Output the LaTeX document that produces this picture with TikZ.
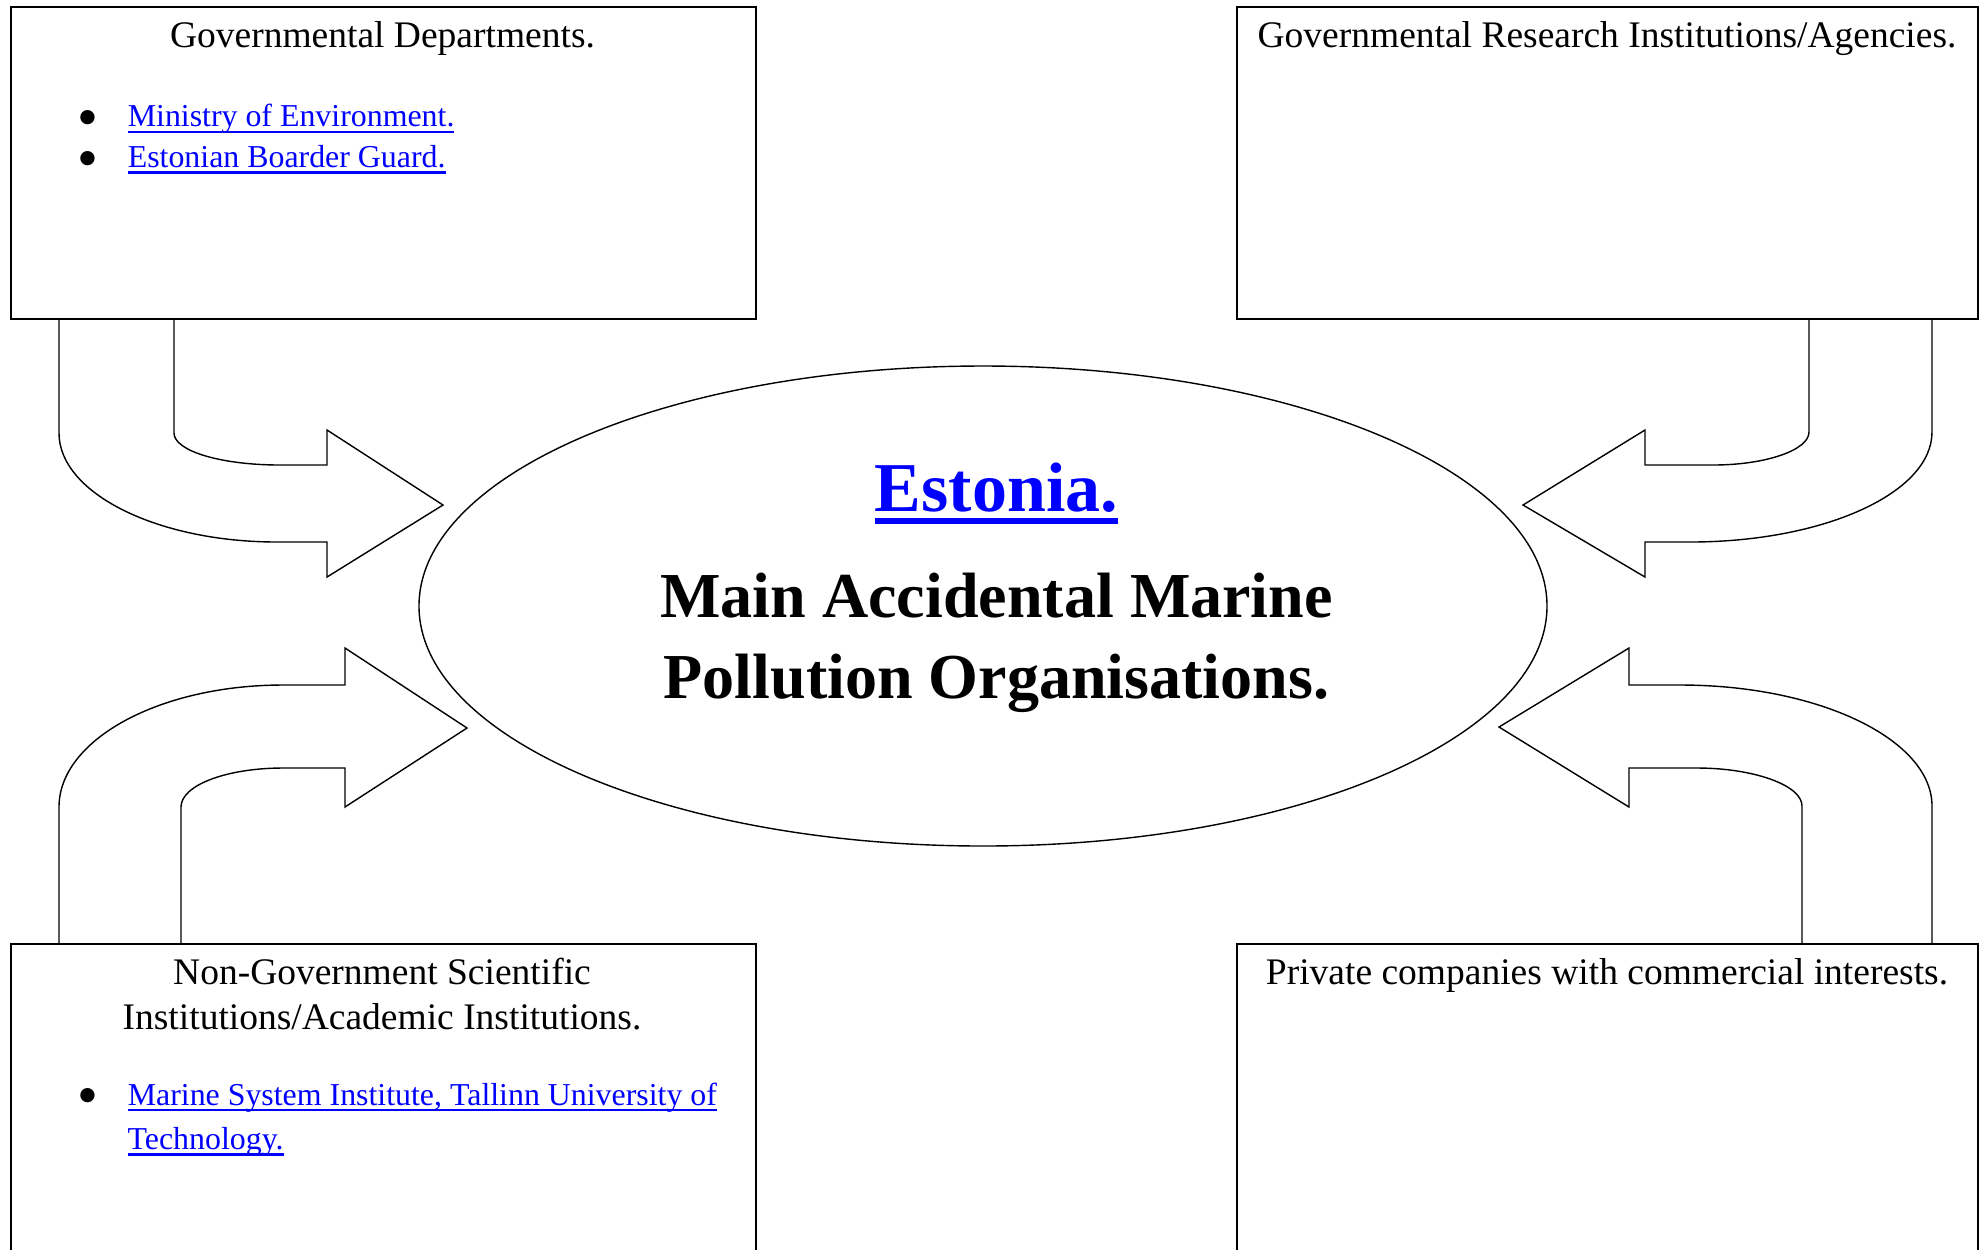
\documentclass[tikz,border=0pt]{standalone}
\usepackage{fontspec}
\setmainfont{Liberation Serif}
\newfontfamily\dotfont{DejaVu Sans}
\usetikzlibrary{shapes.geometric}

\newsavebox\linkbox
% blue link text with a fixed underline: depth, thickness, text
\newcommand\weblink[3]{{\color{blue}\sbox\linkbox{#3}\rlap{\rule[-#1]{\wd\linkbox}{#2}}\usebox\linkbox}}
% list bullet in front of an item
\newcommand\listdot{\makebox[10.9pt][c]{\raisebox{1.3pt}{\dotfont\fontsize{6}{7}\selectfont ●}}\hspace{7.4pt}}

\begin{document}
\begin{tikzpicture}[x=0.32pt,y=-0.32pt,
    every node/.style={inner sep=0pt,font=\fontsize{12}{14}\selectfont},
    box/.style={draw,line width=0.55pt,anchor=north west},
    hub/.style={draw,ellipse,line width=0.45pt,minimum width=1128*0.32pt,minimum height=480*0.32pt},
    flow/.style={draw,line width=0.45pt},
    heading/.style={anchor=base},
    item/.style={anchor=base west,font=\fontsize{10.2}{12}\selectfont},
    bigtext/.style={anchor=base,font=\bfseries\fontsize{20.5}{26}\selectfont}]
    \clip (0,0) rectangle (1979,1249);

    % the four boxes
    \node[box,minimum width=745*0.32pt,minimum height=312*0.32pt] (govdept) at (10,6) {};
    \node[box,minimum width=741*0.32pt,minimum height=312*0.32pt] (govresearch) at (1236,6) {};
    \node[box,minimum width=745*0.32pt,minimum height=340*0.32pt] (nongov) at (10,943) {};
    \node[box,minimum width=741*0.32pt,minimum height=340*0.32pt] (private) at (1236,943) {};

    % centre
    \node[hub] (estonia) at (983,606) {};
    \node[anchor=base,font=\bfseries\fontsize{22.4}{27}\selectfont] (country) at (996.5,511) {\weblink{4.2pt}{1.9pt}{Estonia.}};
    \node[bigtext] (hubline1) at (996.5,617) {Main Accidental Marine};
    \node[bigtext] (hubline2) at (996.5,698) {Pollution Organisations.};

    % box texts
    \node[heading] (govdepttitle) at (382.5,47.7) {Governmental Departments.};
    \node[item] (ministry) at (70,126.7) {\listdot\weblink{2pt}{0.7pt}{Ministry of Environment.}};
    \node[item] (guard) at (70,167.3) {\listdot\weblink{2pt}{0.7pt}{Estonian Boarder Guard.}};

    \node[heading] (govresearchtitle) at (1607,47.7) {Governmental Research Institutions/Agencies.};

    \node[heading] (nongovtitle1) at (382,984.3) {Non-Government Scientific};
    \node[heading] (nongovtitle2) at (382,1029) {Institutions/Academic Institutions.};
    \node[item] (msi1) at (70,1105) {\listdot\weblink{2pt}{0.7pt}{Marine System Institute, Tallinn University of}};
    \node[item] (msi2) at (127,1149.3) {\weblink{2pt}{0.7pt}{Technology.}};

    \node[heading] (privatetitle) at (1607,984.3) {Private companies with commercial interests.};

    % block arrows into the centre
    \draw[flow] (59,318) -- (59,433) .. controls (59,493) and (157,542) .. (277,542) -- (327,542) -- (327,577)
        -- (443,505) -- (327,430) -- (327,465) -- (280,465) .. controls (221,465) and (174,451) .. (174,433) -- (174,318);
    \draw[flow] (1932,318) -- (1932,432) .. controls (1932,493) and (1824,542) .. (1690,542) -- (1645,542) -- (1645,577)
        -- (1523,505) -- (1645,430) -- (1645,465) -- (1713,465) .. controls (1766,465) and (1809,450) .. (1809,432) -- (1809,318);
    \draw[flow] (59,943) -- (59,807) .. controls (59,740) and (159,685) .. (283,685) -- (345,685) -- (345,648)
        -- (467,728) -- (345,807) -- (345,768) -- (283,768) .. controls (227,768) and (181,785) .. (181,807) -- (181,943);
    \draw[flow] (1932,943) -- (1932,806) .. controls (1932,740) and (1820,685) .. (1680,685) -- (1629,685) -- (1629,648)
        -- (1499,727) -- (1629,807) -- (1629,768) -- (1697,768) .. controls (1753,768) and (1802,785) .. (1802,806) -- (1802,943);
\end{tikzpicture}
\end{document}
